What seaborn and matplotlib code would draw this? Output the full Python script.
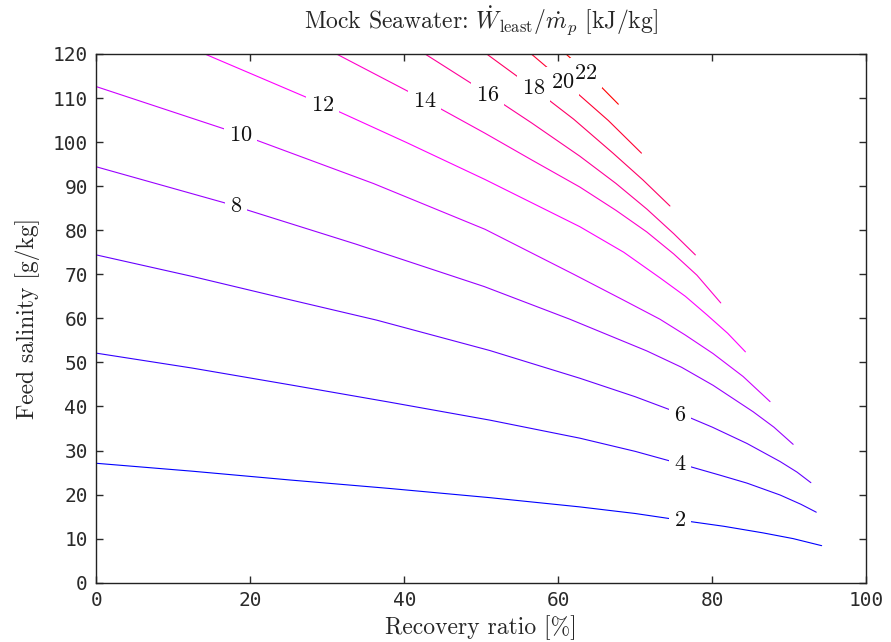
import matplotlib
matplotlib.use("Agg")
import matplotlib.pyplot as plt
import pandas as pd
import seaborn as sns

# Contour levels of least work of separation [kJ/kg]
levels = [2, 4, 6, 8, 10, 12, 14, 16, 18, 20, 22]

# Each iso-line: recovery ratio [%] vs feed salinity [g/kg]
x_2 = [0, 12.5, 25.2, 38.0, 51.1, 62.8, 70.0, 75.8, 81.5, 86.6, 90.5, 94.2]
y_2 = [27.1, 25.3, 23.3, 21.4, 19.3, 17.2, 15.7, 14.2, 12.8, 11.3, 10.0, 8.4]
x_4 = [0, 12.5, 25.2, 38.0, 51.1, 62.8, 70.0, 75.8, 81.0, 84.5, 88.8, 91.5, 93.5]
y_4 = [52.1, 48.7, 44.9, 41.0, 36.9, 32.8, 29.8, 27.0, 24.4, 22.6, 19.9, 17.8, 16.0]
x_6 = [0, 12.5, 25.2, 36.4, 51.1, 62.8, 70.0, 75.8, 80.0, 84.5, 88.8, 91.0, 92.8]
y_6 = [74.4, 69.5, 64.2, 59.6, 52.7, 46.4, 42.2, 38.4, 35.3, 31.6, 27.5, 25.1, 22.7]
x_8 = [0, 16.5, 33.8, 50.4, 61.5, 71.5, 76.0, 80.1, 85.3, 88.0, 90.5]
y_8 = [94.4, 86.3, 76.8, 67.2, 59.8, 52.6, 48.9, 44.8, 38.8, 35.3, 31.4]
x_10 = [0, 18.7, 36.0, 50.5, 62.0, 68.4, 73.2, 76.5, 80.1, 84.0, 87.5]
y_10 = [112.6, 101.8, 90.6, 80.2, 70.0, 64.2, 59.8, 56.2, 52.0, 46.8, 41.1]
x_12 = [14.1, 29.4, 40.3, 50.5, 62.8, 68.5, 73.2, 76.5, 79.3, 82.0, 84.3]
y_12 = [120, 108.6, 99.9, 91.5, 80.8, 75.0, 69.2, 65.0, 60.8, 56.6, 52.4]
x_14 = [31.2, 42.6, 50.5, 56.5, 62.8, 67.5, 71.5, 75.0, 78.0, 81.1]
y_14 = [120, 109.6, 102.0, 96.0, 89.8, 84.5, 79.6, 74.6, 69.8, 63.5]
x_16 = [42.7, 50.8, 56.5, 62.8, 67.5, 71.5, 75.0, 77.8]
y_16 = [120, 111.0, 104.4, 96.8, 90.6, 84.8, 79.2, 74.4]
x_18 = [50.7, 56.8, 62.0, 67.1, 71.0, 74.5]
y_18 = [120, 112.2, 105.2, 97.5, 91.4, 85.5]
x_20 = [56.5, 60.6, 62.4, 66.5, 70.8]
y_20 = [120, 113.9, 111.2, 104.9, 97.5]
x_22 = [61.0, 63.6, 65.2, 67.8]
y_22 = [120, 115.9, 113.2, 108.6]

# Inline label positions, one per level
label_x = [75.8, 75.8, 75.8, 18.1, 18.7, 29.4, 42.6, 50.8, 56.8, 60.6, 63.6]
label_y = [14.2, 26.9, 38.1, 85.5, 101.6, 108.4, 109.3, 110.7, 112.2, 113.7, 115.6]

xs = [x_2, x_4, x_6, x_8, x_10, x_12, x_14, x_16, x_18, x_20, x_22]
ys = [y_2, y_4, y_6, y_8, y_10, y_12, y_14, y_16, y_18, y_20, y_22]

rows = []
for lev, xv, yv in zip(levels, xs, ys):
    for i, (a, b) in enumerate(zip(xv, yv)):
        rows.append({"level": lev, "order": i, "recovery": a, "salinity": b})
df = pd.DataFrame(rows)


def level_color(lev):
    # blue -> magenta -> red across the level range
    t = (lev - levels[0]) / (levels[-1] - levels[0])
    return (min(1.0, 2 * t), 0.0, min(1.0, 2 - 2 * t))


palette = {lev: level_color(lev) for lev in levels}

sns.set_theme(style="ticks")
plt.rcParams["font.family"] = ["DejaVu Sans Mono"]
plt.rcParams["mathtext.fontset"] = "cm"
plt.rcParams["axes.linewidth"] = 1.0

fig = plt.figure(figsize=(8.91, 6.42), dpi=100)
ax = fig.add_axes([0.108, 0.0924, 0.8643, 0.8235])

sns.lineplot(data=df, x="recovery", y="salinity", hue="level", palette=palette,
             units="level", estimator=None, sort=False, legend=False,
             linewidth=0.8, ax=ax)

# inline labels: white gap in the line underneath, digits drawn on top of all gaps
for lev, lx, ly in zip(levels, label_x, label_y):
    ax.text(lx, ly, rf"${lev}$", fontsize=16, ha="center", va="center",
            color="none", zorder=4,
            bbox=dict(boxstyle="square,pad=0.22", fc="white", ec="none"))
    ax.text(lx, ly, rf"${lev}$", fontsize=16, ha="center", va="center",
            color="#111111", zorder=5)

ax.set_xlim(0, 100)
ax.set_ylim(0, 120)
ax.set_xticks([0, 20, 40, 60, 80, 100])
ax.set_yticks(range(0, 121, 10))
ax.tick_params(direction="in", length=5, width=1, top=True, right=True,
               labelsize=14, pad=6, colors="#2a2a2a")
for s in ax.spines.values():
    s.set_color("#222222")

serif = "cmr10"
ax.set_xlabel("Recovery ratio [%]", fontsize=17, family=serif, labelpad=4)
ax.set_ylabel("Feed salinity [g/kg]", fontsize=17, family=serif, labelpad=9)
ax.set_title(r"Mock Seawater: $\dot{W}_{\mathrm{least}}/\dot{m}_p$ [kJ/kg]",
             fontsize=17, family=serif, pad=18)

fig.savefig("out.png", dpi=100)
